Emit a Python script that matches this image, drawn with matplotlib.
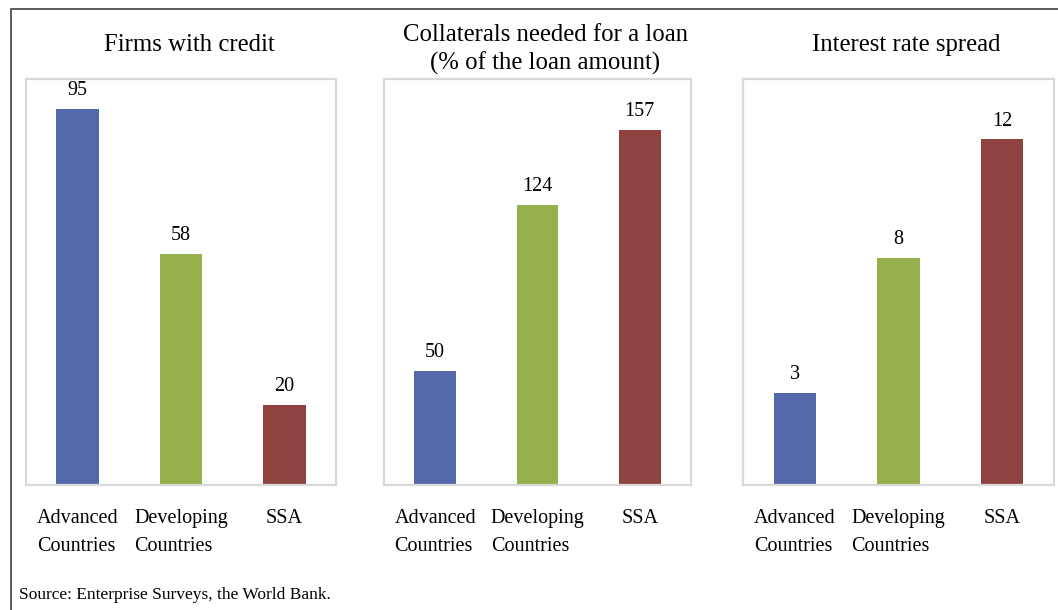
import matplotlib.pyplot as plt
from matplotlib.patches import Rectangle

plt.rcParams['font.family'] = ['Liberation Serif', 'DejaVu Serif']

categories = ['Advanced\nCountries', 'Developing\nCountries', 'SSA']
colors = ['#5469AC', '#96B04E', '#904241']

credit_values = [95, 58.4, 20.2]
collateral_values = [50.4, 124, 157]
spread_values = [3.2, 7.9, 12]

titles = ['Firms with credit',
          'Collaterals needed for a loan\n(% of the loan amount)',
          'Interest rate spread']
panels = [credit_values, collateral_values, spread_values]
ymax = [102.6, 179.6, 14.1]

# panel boxes in pixels (left, right)
W, H = 1058, 610
box_x = [(26, 336), (384, 691), (743, 1054)]
box_top, box_bottom = 79, 485

fig = plt.figure(figsize=(W / 100, H / 100), dpi=100)

# outer frame
fig.patches.append(Rectangle((11 / W, -0.05), 1.2, 1 - 9 / H + 0.05,
                             transform=fig.transFigure, fill=False,
                             edgecolor='#404040', linewidth=1.2))

for i, vals in enumerate(panels):
    x0, x1 = box_x[i]
    ax = fig.add_axes([x0 / W, (H - box_bottom) / H, (x1 - x0) / W,
                       (box_bottom - box_top) / H])
    pos = range(len(categories))
    bars = ax.bar(pos, vals, width=0.41, color=colors)
    for b, v in zip(bars, vals):
        ax.text(b.get_x() + b.get_width() / 2, v + ymax[i] * 0.022,
                f'{v:.0f}', ha='center', va='bottom', fontsize=14.5)
    ax.set_xlim(-0.5, 2.5)
    ax.set_ylim(0, ymax[i])
    ax.set_yticks([])
    ax.set_xticks(list(pos))
    ax.set_xticklabels(categories, fontsize=14.5, multialignment='left',
                       linespacing=1.7)
    ax.tick_params(axis='x', length=0, pad=17)
    for s in ax.spines.values():
        s.set_color('#D9D9D9')
        s.set_linewidth(1.6)
    t = ax.set_title(titles[i], fontsize=17.8, pad=7 if i == 1 else 20,
                     linespacing=1.3)
    t.set_x(0.5 + 8 / (x1 - x0))

fig.text(19 / W, 1 - 595 / H, 'Source: Enterprise Surveys, the World Bank.',
         fontsize=12.5, va='center', ha='left')

fig.savefig('out.png', dpi=100)
